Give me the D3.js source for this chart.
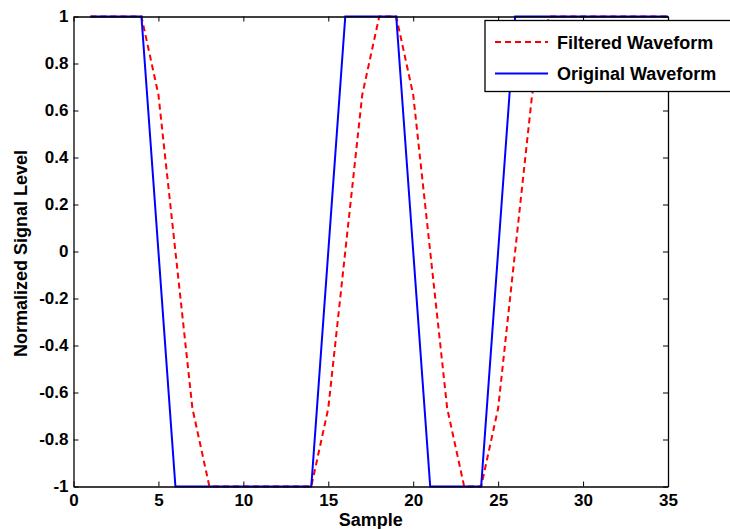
<!DOCTYPE html>
<html>
<head>
<meta charset="utf-8">
<script src="https://cdn.jsdelivr.net/npm/d3@7"></script>
<style>
  html, body { margin: 0; padding: 0; background: #fff; }
  svg { display: block; }
  text { font-family: "Liberation Sans", Arial, Helvetica, sans-serif; font-weight: bold; }
</style>
</head>
<body>
<svg id="chart" width="730" height="529"></svg>
<script>
// ---- data ----
const samples = d3.range(1, 36); // 1..35
const originalWaveform = [1,1,1,1,0,-1,-1,-1,-1,-1,-1,-1,-1,-1,0,1,1,1,1,0,-1,-1,-1,-1,0,1,1,1,1,1,1,1,1,1,1];
const filteredWaveform = [1,1,1,1,0.667,0,-0.667,-1,-1,-1,-1,-1,-1,-1,-0.667,0,0.667,1,1,0.667,0,-0.667,-1,-1,-0.667,0,0.667,1,1,1,1,1,1,1,1];
const xTicks = [0,5,10,15,20,25,30,35];
const yTicks = [-1,-0.8,-0.6,-0.4,-0.2,0,0.2,0.4,0.6,0.8,1];
const seriesNames = ["Filtered Waveform", "Original Waveform"];

// ---- layout ----
const svg = d3.select("#chart");
const L = 73.5, R = 668, T = 16.5, B = 486.5;
const x = d3.scaleLinear().domain([0, 35]).range([L, R]);
const y = d3.scaleLinear().domain([-1, 1]).range([B, T]);
const tickLen = 5;

const g = svg.append("g");

// lines
const line = d3.line().x((d, i) => x(samples[i])).y(d => y(d));
g.append("path").datum(filteredWaveform)
  .attr("d", line).attr("fill", "none")
  .attr("stroke", "#ff0000").attr("stroke-width", 2)
  .attr("stroke-dasharray", "6,4");
g.append("path").datum(originalWaveform)
  .attr("d", line).attr("fill", "none")
  .attr("stroke", "#0000ff").attr("stroke-width", 2);

// axes (inward ticks, mirrored on top/right)
const fmt = d => (d === 0 ? "0" : String(+d.toFixed(1)));
const xAxisB = d3.axisBottom(x).tickValues(xTicks).tickSizeInner(-tickLen).tickSizeOuter(0).tickPadding(7.5).tickFormat(d3.format("d"));
const xAxisT = d3.axisTop(x).tickValues(xTicks).tickSizeInner(-tickLen).tickSizeOuter(0).tickFormat("");
const yAxisL = d3.axisLeft(y).tickValues(yTicks).tickSizeInner(-tickLen).tickSizeOuter(0).tickPadding(5).tickFormat(fmt);
const yAxisR = d3.axisRight(y).tickValues(yTicks).tickSizeInner(-tickLen).tickSizeOuter(0).tickFormat("");

function style(sel) {
  sel.select(".domain").attr("stroke", "#000").attr("stroke-width", 1.3);
  sel.selectAll(".tick line").attr("stroke", "#000").attr("stroke-width", 1);
  sel.selectAll(".tick text").attr("fill", "#000").style("font-size", "17px").style("font-weight", "bold");
}
svg.append("g").attr("transform", `translate(0,${B})`).call(xAxisB).call(style);
svg.append("g").attr("transform", `translate(0,${T})`).call(xAxisT).call(style);
svg.append("g").attr("transform", `translate(${L},0)`).call(yAxisL).call(style);
svg.append("g").attr("transform", `translate(${R},0)`).call(yAxisR).call(style);

// axis labels
svg.append("text").attr("x", (L + R) / 2).attr("y", 526)
  .attr("text-anchor", "middle").style("font-size", "18px").text("Sample");
svg.append("text").attr("transform", `translate(27,${(T + B) / 2 + 2}) rotate(-90)`)
  .attr("text-anchor", "middle").style("font-size", "18px").text("Normalized Signal Level");

// legend
const lg = svg.append("g");
lg.append("rect").attr("x", 485).attr("y", 20.5).attr("width", 280).attr("height", 71)
  .attr("fill", "#fff").attr("stroke", "#000").attr("stroke-width", 1.3);
const legendStyles = [
  { color: "#ff0000", dash: "6,4" },
  { color: "#0000ff", dash: null }
];
seriesNames.forEach((name, i) => {
  const yy = 42 + i * 31.5;
  lg.append("line").attr("x1", 495).attr("x2", 548).attr("y1", yy).attr("y2", yy)
    .attr("stroke", legendStyles[i].color).attr("stroke-width", 2)
    .attr("stroke-dasharray", legendStyles[i].dash);
  lg.append("text").attr("x", 557).attr("y", yy + 6.5).style("font-size", "18px").text(name);
});
</script>
</body>
</html>
